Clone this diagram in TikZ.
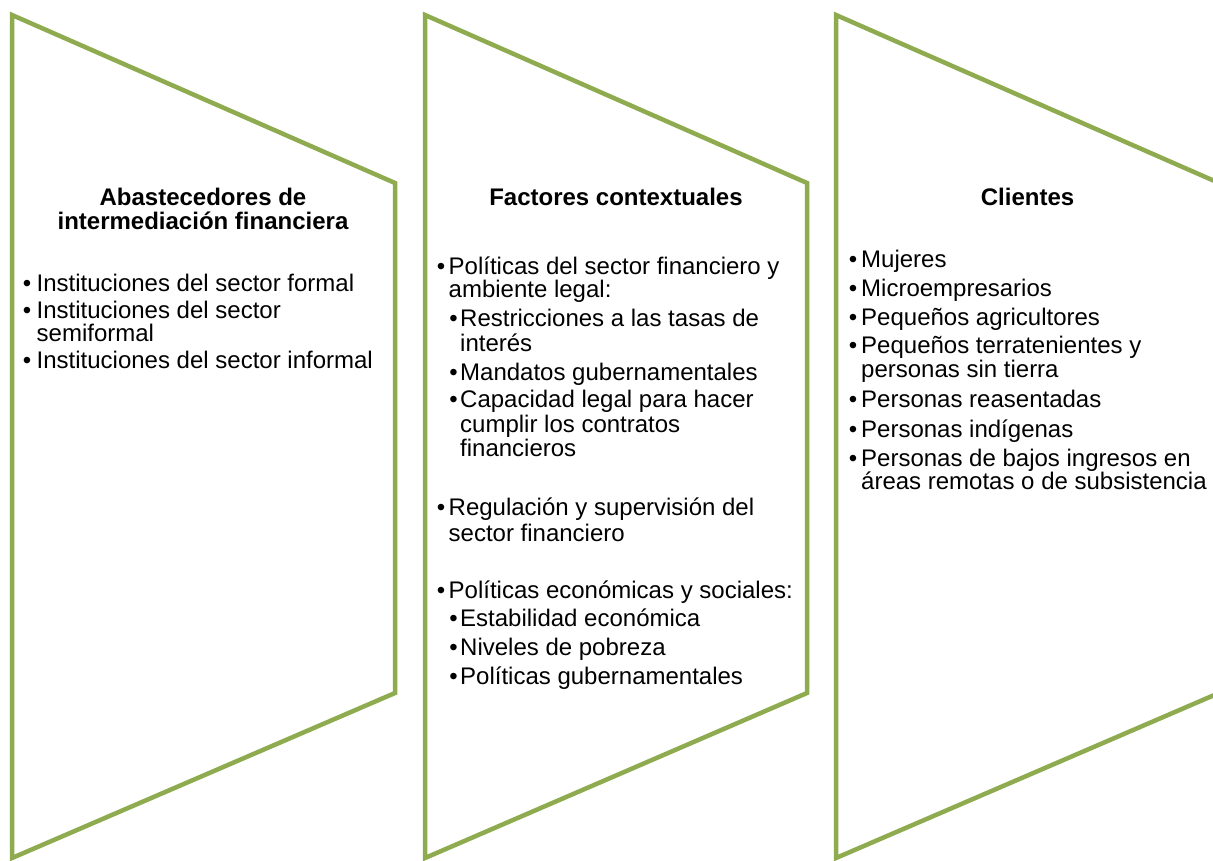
\documentclass[tikz,border=0pt]{standalone}
\usepackage{fontspec}
\setmainfont{Liberation Sans}
\definecolor{grn}{RGB}{143,171,79}
\begin{document}
\begin{tikzpicture}[x=1pt,y=-1pt,
  shp/.style={draw=grn,line width=4.5pt,line join=miter},
  ttl/.style={font=\bfseries\fontsize{24}{24}\selectfont,anchor=base,inner sep=0pt},
  txt/.style={font=\fontsize{24}{24}\selectfont,anchor=base west,inner sep=0pt},
  bul/.style={font=\fontsize{24}{24}\selectfont,anchor=base,inner sep=0pt}]
\useasboundingbox (0,0) rectangle (1213,860);
\clip (0,0) rectangle (1213,860);
% shapes
\draw[shp] (12,15) -- (395,183) -- (395,693) -- (12,858) -- cycle;
\draw[shp] (425,15) -- (807,183) -- (807,693) -- (425,858) -- cycle;
\draw[shp] (836,15) -- (1219,183) -- (1219,693) -- (836,858) -- cycle;
% shape 1
\node[ttl] (t1a) at (203,205) {Abastecedores de};
\node[ttl] (t1b) at (203,229) {intermediación financiera};
\node[bul] (b11) at (27,291) {•};
\node[txt] (a11) at (36.5,291) {Instituciones del sector formal};
\node[bul] (b12) at (27,318) {•};
\node[txt] (a12) at (36.5,318) {Instituciones del sector};
\node[txt] (a12b) at (36.5,341) {semiformal};
\node[bul] (b13) at (27,368) {•};
\node[txt] (a13) at (36.5,368) {Instituciones del sector informal};
% shape 2
\node[ttl] (t2) at (616,205) {Factores contextuales};
\node[bul] (b21) at (441,274) {•};
\node[txt] (c1) at (448.5,274) {Políticas del sector financiero y};
\node[txt] (c1b) at (448.5,297) {ambiente legal:};
\node[bul] (b211) at (453.5,326) {•};
\node[txt] (c11) at (460,326) {Restricciones a las tasas de};
\node[txt] (c11b) at (460,351) {interés};
\node[bul] (b212) at (453.5,380) {•};
\node[txt] (c12) at (460,380) {Mandatos gubernamentales};
\node[bul] (b213) at (453.5,407) {•};
\node[txt] (c13) at (460,407) {Capacidad legal para hacer};
\node[txt] (c13b) at (460,432) {cumplir los contratos};
\node[txt] (c13c) at (460,456) {financieros};
\node[bul] (b22) at (441,515) {•};
\node[txt] (c2) at (448.5,515) {Regulación y supervisión del};
\node[txt] (c2b) at (448.5,541) {sector financiero};
\node[bul] (b23) at (441,598) {•};
\node[txt] (c3) at (448.5,598) {Políticas económicas y sociales:};
\node[bul] (b231) at (453.5,626) {•};
\node[txt] (c31) at (460,626) {Estabilidad económica};
\node[bul] (b232) at (453.5,655) {•};
\node[txt] (c32) at (460,655) {Niveles de pobreza};
\node[bul] (b233) at (453.5,684) {•};
\node[txt] (c33) at (460,684) {Políticas gubernamentales};
% shape 3
\node[ttl] (t3) at (1027.5,205) {Clientes};
\node[bul] (b31) at (853,267) {•};
\node[txt] (d1) at (861,267) {Mujeres};
\node[bul] (b32) at (853,296) {•};
\node[txt] (d2) at (861,296) {Microempresarios};
\node[bul] (b33) at (853,325) {•};
\node[txt] (d3) at (861,325) {Pequeños agricultores};
\node[bul] (b34) at (853,353) {•};
\node[txt] (d4) at (861,353) {Pequeños terratenientes y};
\node[txt] (d4b) at (861,377) {personas sin tierra};
\node[bul] (b35) at (853,407) {•};
\node[txt] (d5) at (861,407) {Personas reasentadas};
\node[bul] (b36) at (853,437) {•};
\node[txt] (d6) at (861,437) {Personas indígenas};
\node[bul] (b37) at (853,466) {•};
\node[txt] (d7) at (861,466) {Personas de bajos ingresos en};
\node[txt] (d7b) at (861,489) {áreas remotas o de subsistencia};
\end{tikzpicture}
\end{document}
